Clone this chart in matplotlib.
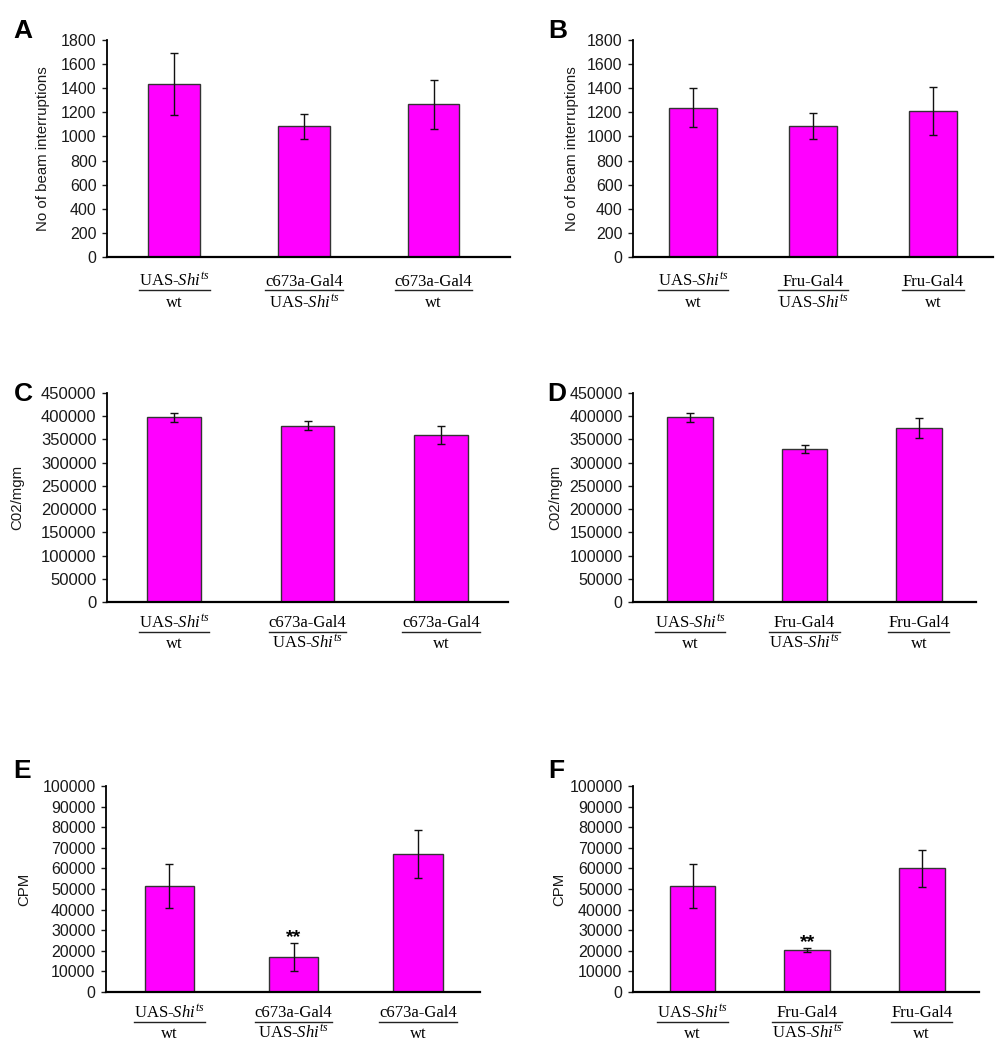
import matplotlib

matplotlib.use("Agg")

import matplotlib.pyplot as plt
import matplotlib.transforms as mtransforms

plt.rcParams["font.family"] = "Liberation Sans"
plt.rcParams["mathtext.fontset"] = "custom"
plt.rcParams["mathtext.rm"] = "Liberation Serif"
plt.rcParams["mathtext.it"] = "Liberation Serif:italic"

FIG_W, FIG_H = 1005, 1050

SHI = r"UAS-$Shi^{ts}$"

# genotype labels (numerator, denominator)
c673_labels = [(SHI, "wt"), ("c673a-Gal4", SHI), ("c673a-Gal4", "wt")]
fru_labels = [(SHI, "wt"), ("Fru-Gal4", SHI), ("Fru-Gal4", "wt")]

# beam interruptions
beam_c673 = [1435, 1085, 1265]
beam_c673_err = [260, 105, 205]
beam_fru = [1240, 1085, 1210]
beam_fru_err = [160, 107, 200]

# CO2 production
co2_c673 = [398000, 380000, 360000]
co2_c673_err = [10000, 9000, 20000]
co2_fru = [398000, 330000, 375000]
co2_fru_err = [10000, 8500, 21000]

# food intake
cpm_c673 = [51500, 17000, 67000]
cpm_c673_err = [10500, 6750, 11500]
cpm_fru = [51500, 20500, 60000]
cpm_fru_err = [10500, 1000, 9000]

significant = [False, True, False]

beam_ticks = list(range(0, 1801, 200))
co2_ticks = list(range(0, 450001, 50000))
cpm_ticks = list(range(0, 100001, 10000))


def fx(px):
    return px / FIG_W


def fy(py):
    return 1 - py / FIG_H


def draw_panel(fig, box, xlim, values, errors, labels, yticks, ylabel,
               letter, letter_pos, ylabel_x, tick_size=11.5, sig=None,
               label_offsets=(25, 30, 46)):
    left, top, right, bottom = box
    ax = fig.add_axes([fx(left), fy(bottom), fx(right - left), (bottom - top) / FIG_H])

    x = list(range(len(values)))
    ax.bar(x, values, width=0.4, color="#ff00ff", edgecolor="#333333", linewidth=1.0, zorder=2)
    ax.errorbar(x, values, yerr=errors, fmt="none", ecolor="#111111",
                elinewidth=1.0, capsize=3, capthick=1.0, zorder=3)

    ax.set_xlim(*xlim)
    ax.set_ylim(yticks[0], yticks[-1])
    ax.set_yticks(yticks)
    ax.set_xticks([])
    for side in ["top", "right"]:
        ax.spines[side].set_visible(False)
    ax.spines["left"].set_linewidth(1.3)
    ax.spines["bottom"].set_linewidth(1.6)
    ax.tick_params(axis="y", direction="out", length=3.5, width=1.0, pad=4.0,
                   labelsize=tick_size, colors="#1a1a1a")

    fig.text(fx(ylabel_x), fy((top + bottom) / 2), ylabel, rotation=90,
             ha="center", va="center", fontsize=10.8, color="#1a1a1a")
    fig.text(fx(letter_pos[0]), fy(letter_pos[1]), letter, ha="left", va="top",
             fontsize=19, fontweight="bold")

    # significance stars
    if sig is not None:
        for i, flag in enumerate(sig):
            if flag:
                ax.annotate("**", xy=(i, values[i] + errors[i]), xytext=(0, 0.5),
                            textcoords="offset points", ha="center", va="baseline",
                            fontsize=14, fontweight="bold")

    # genotype fractions under the bars
    num_off, line_off, den_off = label_offsets
    trans = mtransforms.blended_transform_factory(ax.transData, fig.transFigure)
    texts = []
    for i, (num, den) in enumerate(labels):
        t_num = ax.text(i, fy(bottom + num_off), num, transform=trans, ha="center",
                        va="baseline", fontsize=12, family="Liberation Serif")
        t_den = ax.text(i, fy(bottom + den_off), den, transform=trans, ha="center",
                        va="baseline", fontsize=12, family="Liberation Serif")
        texts.append((i, t_num, t_den))
    return ax, texts, bottom + line_off


fig = plt.figure(figsize=(FIG_W / 100, FIG_H / 100), dpi=100)

top_row = (29, 33, 50)
panels = [
    draw_panel(fig, (107, 40, 510, 257), (-0.52, 2.59), beam_c673, beam_c673_err,
               c673_labels, beam_ticks, "No of beam interruptions", "A", (13, 19), 43,
               label_offsets=top_row),
    draw_panel(fig, (633, 40, 993, 257), (-0.5, 2.5), beam_fru, beam_fru_err,
               fru_labels, beam_ticks, "No of beam interruptions", "B", (548, 19), 572,
               label_offsets=top_row),
    draw_panel(fig, (107, 393, 508, 602), (-0.5, 2.5), co2_c673, co2_c673_err,
               c673_labels, co2_ticks, "C02/mgm", "C", (14, 382), 17, tick_size=12),
    draw_panel(fig, (633, 393, 976, 602), (-0.5, 2.5), co2_fru, co2_fru_err,
               fru_labels, co2_ticks, "C02/mgm", "D", (547, 382), 555),
    draw_panel(fig, (106, 786, 480, 992), (-0.51, 2.5), cpm_c673, cpm_c673_err,
               c673_labels, cpm_ticks, "CPM", "E", (13, 759), 24, sig=significant),
    draw_panel(fig, (633, 786, 979, 992), (-0.52, 2.5), cpm_fru, cpm_fru_err,
               fru_labels, cpm_ticks, "CPM", "F", (548, 759), 559, sig=significant),
]

# fraction lines sized to the label text
fig.canvas.draw()
renderer = fig.canvas.get_renderer()
inv = fig.transFigure.inverted()
for ax, texts, line_y in panels:
    for i, t_num, t_den in texts:
        b1 = t_num.get_window_extent(renderer)
        b2 = t_den.get_window_extent(renderer)
        x0 = min(b1.x0, b2.x0)
        x1 = max(b1.x1, b2.x1)
        (fx0, _), (fx1, _) = inv.transform([(x0, 0), (x1, 0)])
        fig.add_artist(plt.Line2D([fx0, fx1], [fy(line_y)] * 2,
                                  color="#222222", linewidth=1.0))

fig.savefig("out.png", dpi=100)
